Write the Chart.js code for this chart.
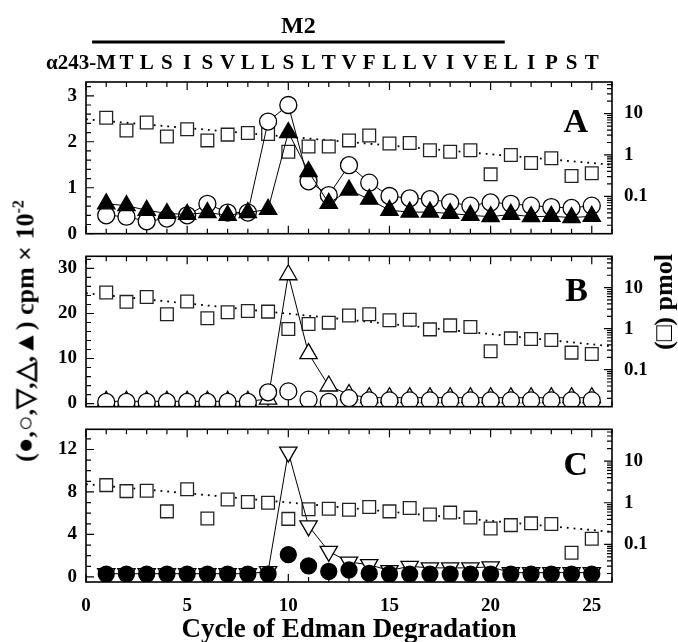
<!DOCTYPE html>
<html>
<head>
<meta charset="utf-8">
<script src="https://cdn.jsdelivr.net/npm/chart.js@4.4.0/dist/chart.umd.min.js"></script>
<style>
  body { margin: 0; background: #fff; }
  #wrap { position: relative; width: 678px; height: 642px; overflow: hidden; }
  #wrap canvas { position: absolute; left: 0; }
  .ytitle {
    position: absolute;
    font: bold 26px "Liberation Serif", serif;
    white-space: nowrap;
    transform: translate(-50%, -50%) rotate(-90deg);
    color: #000;
  }
  .ytitle sup { font-size: 16px; }
</style>
</head>
<body>
<div id="wrap">
  <canvas id="panelA" width="678" height="245" style="top:0px"></canvas>
  <canvas id="panelB" width="678" height="173" style="top:245px"></canvas>
  <canvas id="panelC" width="678" height="224" style="top:418px"></canvas>
  <div class="ytitle" style="left:25px; top:331px">(●,○,▽,△,▲) cpm × 10<sup>-2</sup></div>
  <div class="ytitle" style="left:664px; top:302px">(□) pmol</div>
</div>
<script>
// sequence read in each Edman cycle
const seqStart = 'α243-';
const residues = ['M','T','L','S','I','S','V','L','L','S','L','T','V','F','L','L','V','I','V','E','L','I','P','S','T'];
const m2Cycles = [1, 20];

const cycles = [1,2,3,4,5,6,7,8,9,10,11,12,13,14,15,16,17,18,19,20,21,22,23,24,25];
const xTickLabels = [0, 5, 10, 15, 20, 25];

// panel A
const aOpenCircle = [0.40,0.37,0.27,0.33,0.40,0.65,0.46,0.46,2.44,2.80,1.14,0.84,1.49,1.11,0.82,0.77,0.75,0.68,0.61,0.68,0.65,0.61,0.58,0.56,0.61];
const aFilledTri  = [0.65,0.61,0.51,0.44,0.42,0.46,0.40,0.46,0.53,2.20,1.35,0.66,0.95,0.75,0.51,0.47,0.47,0.44,0.40,0.37,0.42,0.37,0.38,0.35,0.38];
const aPmol       = [7.9,3.9,6.1,2.8,4.2,2.25,3.1,3.4,3.2,1.2,1.6,1.6,2.25,2.95,1.9,1.95,1.3,1.2,1.3,0.34,1.0,0.64,0.83,0.31,0.36];
const aFit        = [7.3, 0.58];
const aLeftTicks  = [0, 1, 2, 3];

// panel B
const bOpenCircle = [0.36,0.36,0.36,0.36,0.36,0.36,0.36,0.36,2.5,2.7,0.86,0.36,1.2,0.7,0.7,0.7,0.7,0.7,0.7,0.7,0.7,0.7,0.7,0.7,0.7];
const bOpenTri    = [0.5,0.5,0.5,0.5,0.5,0.5,0.5,0.5,1.0,28.6,11.1,3.9,2.0,1.3,1.3,1.3,1.3,1.3,1.3,1.3,1.3,1.3,1.3,1.3,1.3];
const bPmol       = [7.6,4.5,5.9,2.25,4.6,1.8,2.5,2.7,2.6,0.98,1.3,1.4,2.1,2.25,1.6,1.65,0.96,1.2,1.1,0.28,0.58,0.56,0.53,0.26,0.24];
const bFit        = [7.3, 0.37];
const bLeftTicks  = [0, 10, 20, 30];

// panel C
const cFilledCircle = [0.27,0.27,0.27,0.27,0.27,0.27,0.27,0.27,0.27,2.1,1.03,0.51,0.65,0.33,0.27,0.27,0.27,0.27,0.27,0.27,0.27,0.27,0.27,0.27,0.27];
const cOpenDownTri  = [0.3,0.3,0.3,0.3,0.3,0.3,0.3,0.3,0.5,11.75,4.8,2.4,1.4,1.15,0.6,1.0,0.85,0.85,0.85,0.95,0.4,0.4,0.4,0.4,0.4];
const cPmol         = [2.65,1.9,1.95,0.62,2.1,0.42,1.2,1.04,1.0,0.41,0.70,0.72,0.68,0.79,0.62,0.75,0.52,0.58,0.44,0.24,0.29,0.32,0.31,0.063,0.137];
const cFit          = [2.8, 0.2];
const cLeftTicks    = [0, 4, 8, 12];

const fitX = [0, 26];
const pmolTicks = [0.1, 1, 10];

Chart.defaults.font.family = '"Liberation Serif", "Times New Roman", serif';
Chart.defaults.font.weight = 'bold';
Chart.defaults.color = '#000';

function pts(ys) {
  return cycles.map((c, i) => ({ x: c, y: ys[i] }));
}

// frame, inward ticks and the big panel letter
const axisMarks = {
  id: 'axisMarks',
  beforeDatasetsDraw(chart, args, o) {
    const { ctx, chartArea: a } = chart;
    const x = chart.scales.x, y = chart.scales.y, y2 = chart.scales.y2;
    ctx.save();
    ctx.strokeStyle = '#000';
    ctx.lineWidth = 1.2;
    ctx.beginPath();
    for (let v = 0; v <= 26; v++) {
      const px = x.getPixelForValue(v);
      const len = v % 5 === 0 ? 8 : 5;
      ctx.moveTo(px, a.top); ctx.lineTo(px, a.top + len);
      ctx.moveTo(px, a.bottom); ctx.lineTo(px, a.bottom - len);
    }
    for (let i = 0; i * o.minor <= y.max + 1e-9; i++) {
      const v = i * o.minor;
      const r = v / o.major;
      const len = Math.abs(r - Math.round(r)) < 1e-6 ? 8 : 5;
      const py = y.getPixelForValue(v);
      ctx.moveTo(a.left, py); ctx.lineTo(a.left + len, py);
    }
    for (let e = -2; e <= 1; e++) {
      for (let k = 1; k <= 9; k++) {
        const v = k * Math.pow(10, e);
        if (v < y2.min || v > y2.max) continue;
        const py = y2.getPixelForValue(v);
        const len = k === 1 ? 8 : 5;
        ctx.moveTo(a.right, py); ctx.lineTo(a.right - len, py);
      }
    }
    ctx.stroke();
    ctx.restore();
  },
  afterDatasetsDraw(chart, args, o) {
    const { ctx, chartArea: a } = chart;
    ctx.save();
    ctx.lineWidth = 1.6;
    ctx.strokeStyle = '#000';
    ctx.strokeRect(a.left, a.top, a.width, a.height);
    ctx.fillStyle = '#000';
    ctx.font = 'bold 34px "Liberation Serif", serif';
    ctx.textAlign = 'right';
    ctx.textBaseline = 'middle';
    ctx.fillText(o.label, a.right - 24, a.top + o.labelDy);
    ctx.restore();
  }
};

// M2 bar and residue letters above panel A
const sequenceHeader = {
  id: 'sequenceHeader',
  afterDraw(chart) {
    const { ctx } = chart;
    const x = chart.scales.x;
    ctx.save();
    ctx.fillStyle = '#000';
    ctx.textBaseline = 'middle';
    ctx.font = 'bold 21px "Liberation Serif", serif';
    ctx.textAlign = 'center';
    residues.forEach((r, i) => ctx.fillText(r, x.getPixelForValue(cycles[i]), 64));
    const mW = ctx.measureText(residues[0]).width;
    ctx.textAlign = 'right';
    ctx.fillText(seqStart, x.getPixelForValue(cycles[0]) - mW / 2, 64);
    const x0 = x.getPixelForValue(m2Cycles[0] - 0.7);
    const x1 = x.getPixelForValue(m2Cycles[1] + 0.7);
    ctx.strokeStyle = '#000';
    ctx.lineWidth = 3;
    ctx.beginPath();
    ctx.moveTo(x0, 42); ctx.lineTo(x1, 42);
    ctx.stroke();
    ctx.font = 'bold 24px "Liberation Serif", serif';
    ctx.textAlign = 'center';
    ctx.fillText('M2', (x0 + x1) / 2, 27);
    ctx.restore();
  }
};

function setTicks(values) {
  return (scale) => { scale.ticks = values.map(v => ({ value: v })); };
}

function fixWidth(w) {
  return (s) => { s.width = w; s.paddingTop = 0; s.paddingBottom = 0; };
}

function makePanel(id, p) {
  const scaleFont = { size: 19, weight: 'bold' };
  const datasets = [];
  p.marks.forEach((m, i) => {
    datasets.push(Object.assign({
      data: pts(m.values),
      yAxisID: 'y',
      borderColor: '#000',
      borderWidth: 1,
      pointBorderWidth: 1.3,
      pointBorderColor: '#000',
      showLine: true,
      tension: 0,
      order: i + 1
    }, m.style));
  });
  datasets.push({
    data: pts(p.pmol),
    yAxisID: 'y2',
    showLine: false,
    pointStyle: 'rect',
    pointRadius: 9,
    pointBackgroundColor: '#fff',
    pointBorderColor: '#222',
    pointBorderWidth: 1.3,
    order: 10
  });
  datasets.push({
    data: fitX.map((v, i) => ({ x: v, y: p.fit[i] })),
    yAxisID: 'y2',
    borderColor: '#000',
    borderWidth: 1.8,
    borderDash: [1.8, 5],
    pointRadius: 0,
    order: 11
  });

  return new Chart(document.getElementById(id), {
    type: 'line',
    data: { datasets },
    options: {
      responsive: false,
      animation: false,
      devicePixelRatio: 1,
      layout: { padding: { top: p.padTop, bottom: p.padBottom, left: 0, right: 0 } },
      plugins: {
        legend: { display: false },
        tooltip: { enabled: false },
        axisMarks: { label: p.label, labelDy: p.labelDy, major: p.major, minor: p.minor }
      },
      scales: {
        x: {
          type: 'linear',
          min: 0, max: 26,
          display: p.showX,
          afterBuildTicks: setTicks(xTickLabels),
          afterFit: (s) => {
            if (p.showX) s.height = 60;
            s.paddingLeft = 0; s.paddingRight = 0;
          },
          grid: { display: false, drawTicks: false },
          border: { display: false },
          ticks: { font: scaleFont, padding: 13, maxRotation: 0, autoSkip: false },
          title: {
            display: p.showX,
            text: 'Cycle of Edman Degradation',
            font: { size: 27, weight: 'bold', lineHeight: 0.9 },
            padding: { top: 0, bottom: 0 }
          }
        },
        y: {
          type: 'linear',
          position: 'left',
          min: p.yMin, max: p.yMax,
          afterBuildTicks: setTicks(p.leftTicks),
          afterFit: fixWidth(86),
          grid: { display: false, drawTicks: false },
          border: { display: false },
          ticks: { font: scaleFont, padding: 9 }
        },
        y2: {
          type: 'logarithmic',
          position: 'right',
          min: 0.0125, max: 58,
          afterBuildTicks: setTicks(pmolTicks),
          afterFit: fixWidth(66),
          grid: { display: false, drawTicks: false },
          border: { display: false },
          ticks: {
            font: scaleFont,
            padding: 12,
            callback: (v) => (v < 1 ? '0.1' : String(v))
          }
        }
      }
    },
    plugins: p.header ? [axisMarks, sequenceHeader] : [axisMarks]
  });
}

const openCircle = { pointStyle: 'circle', pointRadius: 8.5, pointBackgroundColor: '#fff' };
const filledCircle = { pointStyle: 'circle', pointRadius: 8, pointBackgroundColor: '#000', showLine: false };
const filledTri = { pointStyle: 'triangle', pointRadius: 10, pointBackgroundColor: '#000' };
const openTri = { pointStyle: 'triangle', pointRadius: 10, pointBackgroundColor: '#fff' };
const openDownTri = { pointStyle: 'triangle', pointRotation: 180, pointRadius: 10, pointBackgroundColor: '#fff' };

makePanel('panelA', {
  label: 'A', labelDy: 41, header: true, showX: false,
  padTop: 82, padBottom: 8,
  yMin: 0, yMax: 3.3, leftTicks: aLeftTicks, major: 1, minor: 0.2,
  marks: [
    { values: aFilledTri, style: filledTri },
    { values: aOpenCircle, style: openCircle }
  ],
  pmol: aPmol, fit: aFit
});

makePanel('panelB', {
  label: 'B', labelDy: 36, header: false, showX: false,
  padTop: 9, padBottom: 8,
  yMin: -0.7, yMax: 32.7, leftTicks: bLeftTicks, major: 10, minor: 2,
  marks: [
    { values: bOpenCircle, style: Object.assign({}, openCircle, { showLine: false }) },
    { values: bOpenTri, style: openTri }
  ],
  pmol: bPmol, fit: bFit
});

makePanel('panelC', {
  label: 'C', labelDy: 37, header: false, showX: true,
  padTop: 5, padBottom: 0,
  yMin: -0.48, yMax: 13.9, leftTicks: cLeftTicks, major: 4, minor: 1,
  marks: [
    { values: cFilledCircle, style: filledCircle },
    { values: cOpenDownTri, style: openDownTri }
  ],
  pmol: cPmol, fit: cFit
});
</script>
</body>
</html>
